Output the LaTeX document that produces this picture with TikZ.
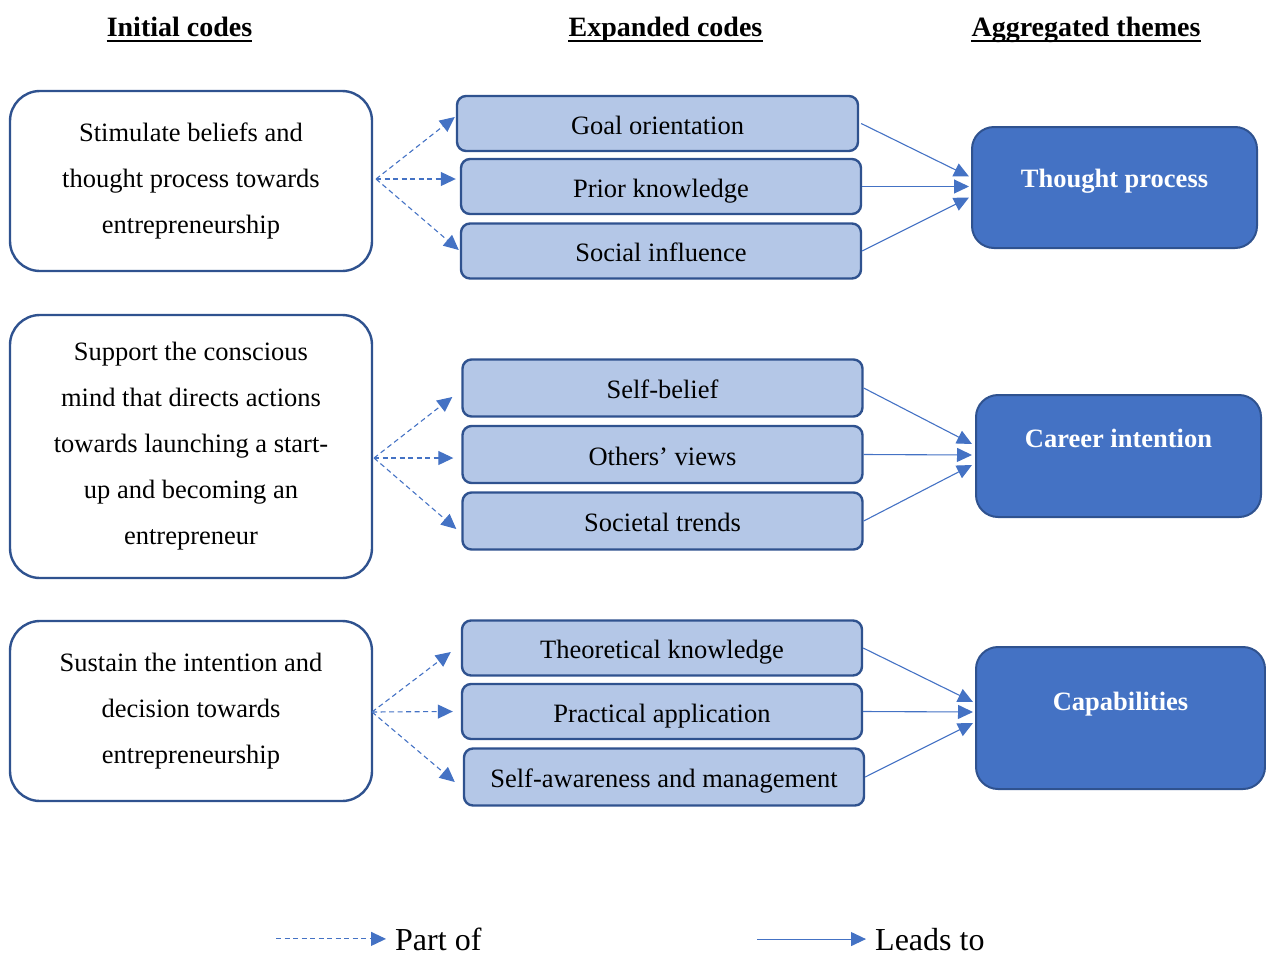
\documentclass[tikz,border=0pt]{standalone}
\usepackage{fontspec}
\setmainfont{Liberation Serif}
\usepackage{xcolor}
\usepackage{tikz}
\usetikzlibrary{arrows.meta,positioning,calc}

\definecolor{boxline}{HTML}{2F528F}
\definecolor{codefill}{HTML}{B4C7E7}
\definecolor{themefill}{HTML}{4472C4}
\definecolor{arrowblue}{HTML}{4472C4}

\tikzset{
  initbox/.style={draw=boxline, line width=2.4pt, fill=white, rounded corners=30pt, minimum width=362pt, minimum height=180pt, align=center, font=\fontsize{26.5}{46}\selectfont},
  codebox/.style={draw=boxline, line width=2.4pt, fill=codefill, rounded corners=9pt, minimum width=400pt, minimum height=55pt, text height=22pt, text depth=1pt, font=\fontsize{26.5}{30}\selectfont},
  themebox/.style={draw=boxline, line width=2pt, fill=themefill, rounded corners=22pt},
  themetext/.style={text=white, anchor=base, font=\bfseries\fontsize{26.5}{30}\selectfont},
  heading/.style={inner sep=0pt, anchor=base, font=\bfseries\fontsize{28}{30}\selectfont},
  legendtext/.style={inner xsep=9pt, inner ysep=1pt, anchor=base west, font=\fontsize{32}{36}\selectfont},
  partof/.style={arrowblue, line width=1.1pt, dash pattern=on 5pt off 3.5pt, -{Triangle[length=15pt,width=14pt]}},
  leadsto/.style={arrowblue, line width=1.1pt, -{Triangle[length=15pt,width=14pt]}},
}

\begin{document}
\begin{tikzpicture}[x=1pt, y=-1pt]
    \useasboundingbox (0,0) rectangle (1266,956);

    % Column headings
    \node[heading] (hinit) at (179.5,36) {Initial codes};
    \node[heading] (hexp) at (665.5,36) {Expanded codes};
    \node[heading] (hagg) at (1086,36) {Aggregated themes};
    \foreach \h in {hinit,hexp,hagg} {
        \draw[line width=2.8pt] ([yshift=-5pt]\h.base west) -- ([yshift=-5pt]\h.base east);
    }

    % Initial codes
    \node[initbox] (init1) at (191,181) {Stimulate beliefs and\\thought process towards\\entrepreneurship};
    \node[initbox, minimum height=263pt] (init2) at (191,446.5) {Support the conscious\\mind that directs actions\\towards launching a start-\\up and becoming an\\entrepreneur};
    \node[initbox] (init3) at (191,711) {Sustain the intention and\\decision towards\\entrepreneurship};

    % Expanded codes
    \node[codebox, minimum width=401pt] (goal) at (657.5,123.5) {Goal orientation};
    \node[codebox] (prior) at (661,186.5) {Prior knowledge};
    \node[codebox] (social) at (661,251) {Social influence};
    \node[codebox, minimum height=57pt] (selfb) at (662.5,388) {Self-belief};
    \node[codebox, minimum height=57pt] (others) at (662.5,454.5) {Others’ views};
    \node[codebox, minimum height=57pt] (trends) at (662.5,521) {Societal trends};
    \node[codebox] (theo) at (662,648) {Theoretical knowledge};
    \node[codebox] (pract) at (662,711.5) {Practical application};
    \node[codebox, minimum height=57pt] (selfa) at (664,777) {Self-awareness and management};

    % Aggregated themes
    \node[themebox, minimum width=285pt, minimum height=121pt] (thought) at (1114.5,187.5) {};
    \node[themetext] (thoughttxt) at ([yshift=0pt]thought.center) {Thought process};
    \node[themebox, minimum width=285pt, minimum height=122pt] (career) at (1118.5,456) {};
    \node[themetext] (careertxt) at ([yshift=9pt]career.center) {Career intention};
    \node[themebox, minimum width=289pt, minimum height=142pt] (capab) at (1120.5,718) {};
    \node[themetext] (capabtxt) at ([yshift=8pt]capab.center) {Capabilities};

    % Part of
    \coordinate (fork1) at (376,179);
    \coordinate (fork2) at (374,458);
    \coordinate (fork3) at (372,712);
    \draw[partof] (fork1) -- ([shift={(-1pt,6.5pt)}]goal.west);
    \draw[partof] (fork1) -- ([shift={(-4pt,7.5pt)}]prior.west);
    \draw[partof] (fork1) -- ([shift={(-1pt,1pt)}]social.west);
    \draw[partof] (fork2) -- ([shift={(-9pt,-9pt)}]selfb.west);
    \draw[partof] (fork2) -- ([shift={(-8pt,-3.5pt)}]others.west);
    \draw[partof] (fork2) -- ([shift={(-5pt,-8pt)}]trends.west);
    \draw[partof] (fork3) -- ([shift={(-10pt,-4pt)}]theo.west);
    \draw[partof] (fork3) -- ([shift={(-8pt,0pt)}]pract.west);
    \draw[partof] (fork3) -- ([shift={(-8pt,-5pt)}]selfa.west);

    % Leads to
    \draw[leadsto] ([xshift=2pt]goal.east) -- ([shift={(-2pt,11pt)}]thought.west);
    \draw[leadsto] (prior.east) -- ([shift={(-2pt,1pt)}]thought.west);
    \draw[leadsto] (social.east) -- ([shift={(-2pt,-10pt)}]thought.west);
    \draw[leadsto] (selfb.east) -- ([shift={(-3pt,12pt)}]career.west);
    \draw[leadsto] (others.east) -- ([shift={(-3pt,1pt)}]career.west);
    \draw[leadsto] (trends.east) -- ([shift={(-3pt,-9pt)}]career.west);
    \draw[leadsto] (theo.east) -- ([shift={(-2pt,16pt)}]capab.west);
    \draw[leadsto] (pract.east) -- ([shift={(-2pt,6pt)}]capab.west);
    \draw[leadsto] (selfa.east) -- ([shift={(-2pt,-5pt)}]capab.west);

    % Legend
    \node[legendtext] (partlbl) at (386,950) {Part of};
    \coordinate (partstart) at (276,0);
    \draw[partof] (partstart |- partlbl.west) -- (partlbl.west);
    \node[legendtext] (leadlbl) at (866,950) {Leads to};
    \coordinate (leadstart) at (757,0);
    \draw[leadsto] (leadstart |- leadlbl.west) -- (leadlbl.west);
\end{tikzpicture}
\end{document}
